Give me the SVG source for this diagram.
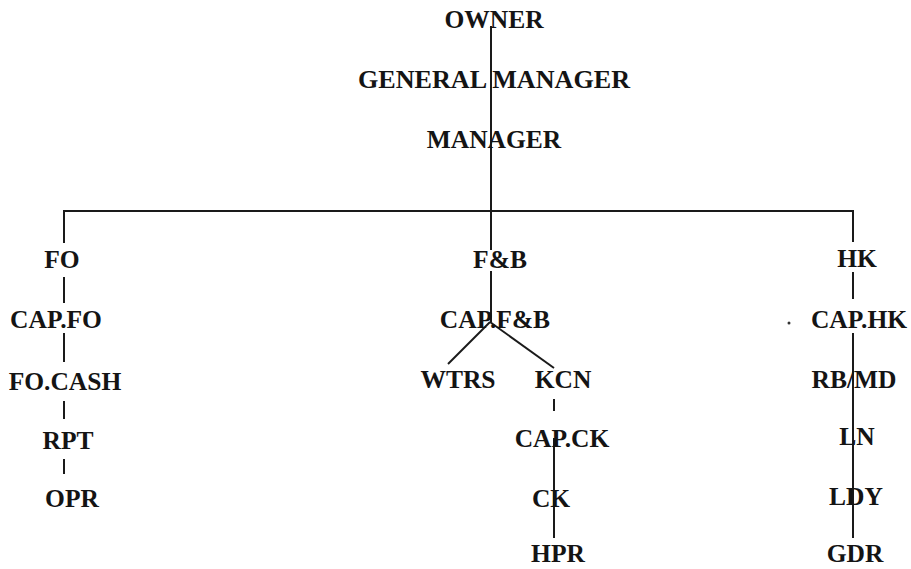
<svg xmlns="http://www.w3.org/2000/svg" width="911" height="569" viewBox="0 0 911 569">
<style>
.n text{font-family:"Liberation Serif","Times New Roman","DejaVu Serif",serif;font-weight:bold;font-size:25.5px;fill:#141414;text-anchor:middle}
.c line{stroke:#1a1a1a;stroke-width:2;stroke-linecap:butt}
</style>
<rect width="911" height="569" fill="#ffffff"/>
<g id="connectors" class="c">
<line x1="491" y1="26" x2="491" y2="250"/>
<line x1="64" y1="211" x2="853" y2="211"/>
<line x1="64" y1="210" x2="64" y2="243"/>
<line x1="64" y1="277" x2="64" y2="303"/>
<line x1="64" y1="333" x2="64" y2="362"/>
<line x1="64" y1="401" x2="64" y2="419"/>
<line x1="64" y1="459" x2="64" y2="474"/>
<line x1="491" y1="271" x2="491" y2="322"/>
<line x1="490" y1="322" x2="448" y2="364"/>
<line x1="490" y1="322" x2="554" y2="368"/>
<line x1="554" y1="399" x2="554" y2="411"/>
<line x1="554" y1="438" x2="554" y2="538"/>
<line x1="853" y1="210" x2="853" y2="242"/>
<line x1="853" y1="272" x2="853" y2="299"/>
<line x1="853" y1="333" x2="853" y2="538"/>
</g>
<g id="owner" class="n"><text x="494" y="28">OWNER</text></g>
<g id="general-manager" class="n"><text x="494" y="88" textLength="272" lengthAdjust="spacingAndGlyphs">GENERAL MANAGER</text></g>
<g id="manager" class="n"><text x="494" y="148">MANAGER</text></g>
<g id="fo" class="n"><text x="62" y="268">FO</text></g>
<g id="cap-fo" class="n"><text x="56" y="328">CAP.FO</text></g>
<g id="fo-cash" class="n"><text x="65" y="390">FO.CASH</text></g>
<g id="rpt" class="n"><text x="68" y="449">RPT</text></g>
<g id="opr" class="n"><text x="72" y="507">OPR</text></g>
<g id="fb" class="n"><text x="500" y="268">F&amp;B</text></g>
<g id="cap-fb" class="n"><text x="495" y="328">CAP.F&amp;B</text></g>
<g id="wtrs" class="n"><text x="458" y="388">WTRS</text></g>
<g id="kcn" class="n"><text x="563" y="388">KCN</text></g>
<g id="cap-ck" class="n"><text x="562" y="447">CAP.CK</text></g>
<g id="ck" class="n"><text x="551" y="507">CK</text></g>
<g id="hpr" class="n"><text x="558" y="562">HPR</text></g>
<g id="hk" class="n"><text x="857" y="267">HK</text></g>
<g id="cap-hk" class="n"><text x="859" y="328">CAP.HK</text></g>
<g id="rb-md" class="n"><text x="854" y="388">RB/MD</text></g>
<g id="ln" class="n"><text x="857" y="445">LN</text></g>
<g id="ldy" class="n"><text x="856" y="505">LDY</text></g>
<g id="gdr" class="n"><text x="855" y="562">GDR</text></g>
<circle cx="789" cy="323" r="1.5" fill="#333"/>
</svg>
